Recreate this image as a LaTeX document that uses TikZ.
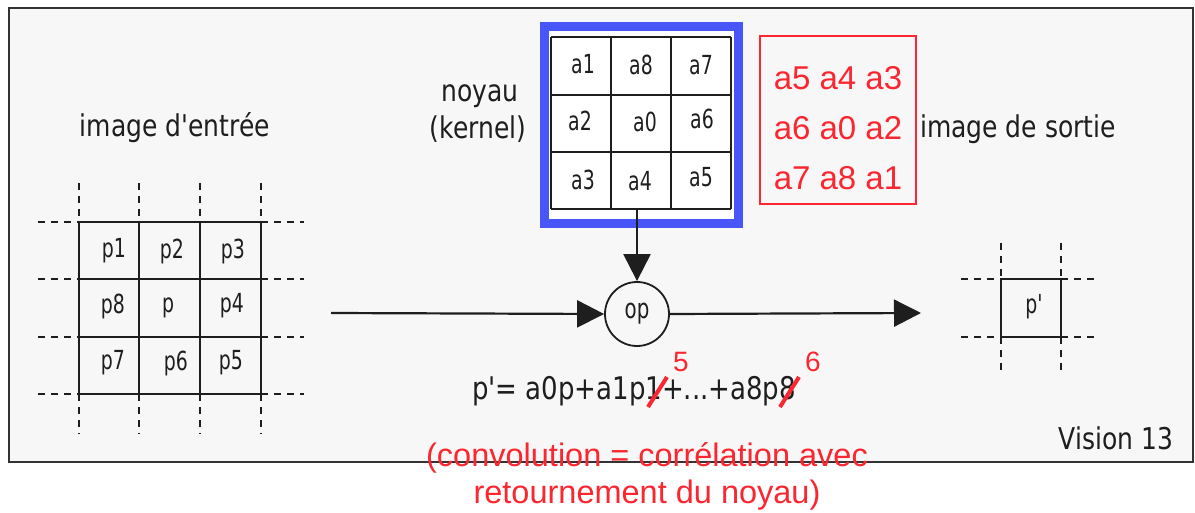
\documentclass[tikz,border=0pt]{standalone}
\usepackage{graphicx}
\usepackage{fontspec}
\setmainfont{DejaVu Sans}[Ligatures=TeXOff]
\newfontfamily\redfont{Liberation Sans}
\usetikzlibrary{arrows.meta}
\definecolor{panel}{RGB}{247,247,247}
\definecolor{kblue}{RGB}{72,86,248}
\definecolor{nred}{RGB}{250,38,48}
\definecolor{ink}{RGB}{30,30,30}
% tall, narrow screen lettering
\newcommand\tallc[1]{\scalebox{0.9}[1.25]{#1}}
\newcommand\talll[1]{\scalebox{1}[1.2]{#1}}
\tikzset{
  lbl/.style={inner sep=0pt, text=ink, font=\fontsize{25}{28}\selectfont},
  cell/.style={inner sep=0pt, text=ink, font=\fontsize{21}{24}\selectfont},
  note/.style={inner sep=0pt, text=nred, font=\redfont\fontsize{33}{37}\selectfont},
  gridline/.style={line width=2.4pt, ink},
  ext/.style={line width=2.4pt, ink, dash pattern=on 7pt off 6pt},
  flow/.style={line width=2.2pt, ink, -{Triangle[length=27pt,width=27pt]}},
  slash/.style={line width=4pt, nred},
}
\begin{document}
\begin{tikzpicture}[x=1pt,y=-1pt]
\useasboundingbox (0,0) rectangle (1195,513);
\fill[white] (0,0) rectangle (1195,513);
% framed panel
\draw[fill=panel, draw=black!80, line width=2.6pt] (9,8) rectangle (1193,462);

% ---- input image: 3x3 neighbourhood ----
\node[lbl] (inlabel) at (175,128) {\talll{image d'entrée}};
\foreach \x in {79,139,200,261} {
  \draw[gridline] (\x,222) -- (\x,394);
  \draw[ext] (\x,183) -- (\x,222);
  \draw[ext] (\x,394) -- (\x,434);
}
\foreach \y in {222,279,337,394} {
  \draw[gridline] (79,\y) -- (261,\y);
  \draw[ext] (38,\y) -- (79,\y);
  \draw[ext] (261,\y) -- (304,\y);
}
\node[cell] (p1) at (114,251) {\tallc{p1}};
\node[cell] (p2) at (172,251) {\tallc{p2}};
\node[cell] (p3) at (233,251) {\tallc{p3}};
\node[cell] (p8) at (113,306) {\tallc{p8}};
\node[cell] (p0) at (168,308) {\tallc{p}};
\node[cell] (p4) at (232,306) {\tallc{p4}};
\node[cell] (p7) at (113,363) {\tallc{p7}};
\node[cell] (p6) at (176,363) {\tallc{p6}};
\node[cell] (p5) at (231,363) {\tallc{p5}};

% ---- kernel ----
\node[lbl] (knlabel1) at (480,96) {\talll{noyau}};
\node[lbl] (knlabel2) at (478,129) {\talll{(kernel)}};
\draw[kblue, line width=9pt, fill=white] (544.5,26.5) rectangle (738.5,223.5);
\foreach \x in {551,611,671,731} \draw[gridline] (\x,37) -- (\x,209);
\foreach \y in {37,95,152,209} \draw[gridline] (551,\y) -- (731,\y);
\node[cell] (a1) at (583,64) {\tallc{a1}};
\node[cell] (a8) at (641,65) {\tallc{a8}};
\node[cell] (a7) at (701,65) {\tallc{a7}};
\node[cell] (a2) at (580,121) {\tallc{a2}};
\node[cell] (a0) at (645,122) {\tallc{a0}};
\node[cell] (a6) at (702,119) {\tallc{a6}};
\node[cell] (a3) at (583,180) {\tallc{a3}};
\node[cell] (a4) at (640,181) {\tallc{a4}};
\node[cell] (a5) at (701,177) {\tallc{a5}};
\coordinate (kout) at (637,209);

% flipped kernel
\draw[nred, line width=1.3pt] (760,36) rectangle (916,204);
\node[note] (flip1) at (838,78) {a5 a4 a3};
\node[note] (flip2) at (838,128) {a6 a0 a2};
\node[note] (flip3) at (838,178) {a7 a8 a1};

% ---- operator ----
\node[draw=ink, circle, line width=1.8pt, minimum size=64pt, inner sep=0pt,
      text=ink, font=\fontsize{22}{24}\selectfont] (op) at (637,314) {\tallc{op}};
\coordinate (in) at (331,313);
\coordinate (outtip) at (921,313);
\draw[flow] (in) -- (op.west);
\draw[flow] (kout) -- (op.north);
\draw[flow] (op.east) -- (outtip);

% ---- output image ----
\node[lbl] (outlabel) at (1018,129) {\talll{image de sortie}};
\foreach \x in {1001,1061} {
  \draw[gridline] (\x,279) -- (\x,337);
  \draw[ext] (\x,243) -- (\x,279);
  \draw[ext] (\x,337) -- (\x,376);
}
\foreach \y in {279,337} {
  \draw[gridline] (1001,\y) -- (1061,\y);
  \draw[ext] (961,\y) -- (1001,\y);
  \draw[ext] (1061,\y) -- (1097,\y);
}
\node[cell] (pout) at (1034,307) {\tallc{p'}};

% ---- formula ----
\node[lbl, font=\fontsize{26}{30}\selectfont] (formula) at (634,391) {\talll{p'= a0p+a1p1+...+a8p8}};
\draw[slash] (648,407) -- (667,377);
\draw[slash] (780,407) -- (799,377);
\node[note, font=\redfont\fontsize{28}{30}\selectfont] (five) at (681,362) {5};
\node[note, font=\redfont\fontsize{28}{30}\selectfont] (six) at (813,362) {6};

\node[lbl] (tag) at (1116,438) {\talll{Vision 13}};

% ---- remark ----
\node[note, align=center, font=\redfont\fontsize{32.5}{37}\selectfont] (remark) at (647,476)
  {(convolution = corrélation avec\\retournement du noyau)};
\end{tikzpicture}
\end{document}
